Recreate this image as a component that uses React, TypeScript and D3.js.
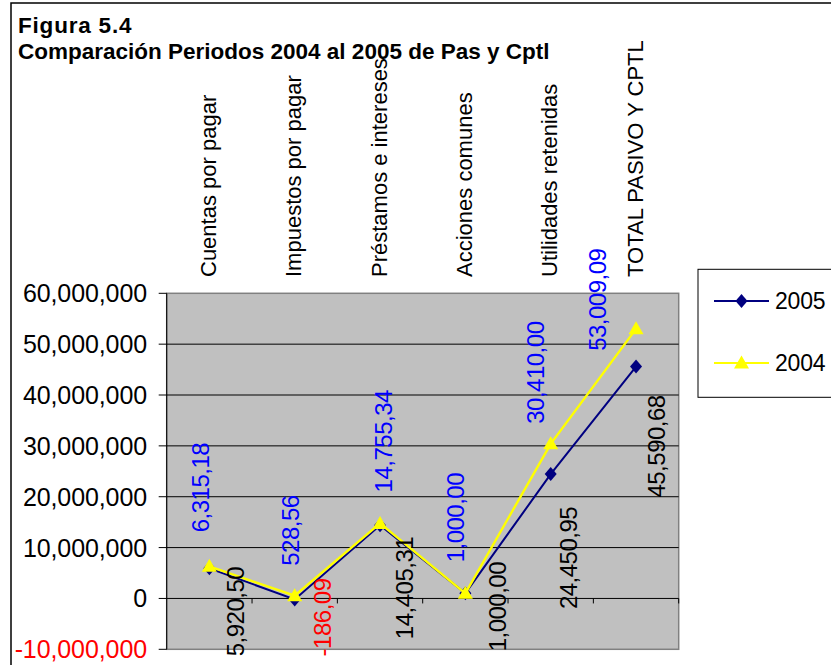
import React from "react";
import * as d3 from "d3";

const categories = [
  "Cuentas por pagar",
  "Impuestos por pagar",
  "Préstamos e intereses",
  "Acciones comunes",
  "Utilidades retenidas",
  "TOTAL PASIVO Y CPTL",
];
const values2005 = [5920500, -186090, 14405310, 1000000, 24450950, 45590680];
const values2004 = [6315180, 528569, 14755340, 1000000, 30410000, 53009090];
const labels2005 = ["5,920,50", "-186,09", "14,405,31", "1,000,00", "24,450,95", "45,590,68"];
const labels2004 = ["6,315,18", "528,56", "14,755,34", "1,000,00", "30,410,00", "53,009,09"];
const yTicks = [-10000000, 0, 10000000, 20000000, 30000000, 40000000, 50000000, 60000000];
const seriesNames = ["2005", "2004"];

// label placement offsets (relative to their point): dx to label centre, dy to text start
const lab2004dx = [-9, -4, 3, -10, -15, -39];
const lab2004dy = [-34, -30, -31, -31, -20, 22];
const lab2005dx = [26, 28, 24, 32, 18, 20];
const lab2005dy = [88, 57, 114, 58, 135, 131];

const FONT = "'Liberation Sans', Arial, Helvetica, sans-serif";
const NAVY = "#000080";
const YELLOW = "#FFFF00";

const W = 831;
const H = 665;
const plot = { left: 166.7, right: 678.7, top: 293.3, bottom: 649.3 };

const diamond = (cx: number, cy: number) =>
  `M${cx},${cy - 7}L${cx + 6},${cy}L${cx},${cy + 7}L${cx - 6},${cy}Z`;
const triangle = (cx: number, cy: number) =>
  `M${cx},${cy - 7.5}L${cx + 7.5},${cy + 5.5}L${cx - 7.5},${cy + 5.5}Z`;

export default function App() {
  const x = d3.scaleBand<string>().domain(categories).range([plot.left, plot.right]);
  const cx = (c: string) => (x(c) as number) + x.bandwidth() / 2;
  const y = d3.scaleLinear().domain([-10000000, 60000000]).range([plot.bottom, plot.top]);
  const fmt = d3.format(",");

  const line = d3
    .line<number>()
    .x((_, i) => cx(categories[i]))
    .y((v) => y(v));

  const catTickXs = categories.map((c) => x(c) as number).slice(1).concat([plot.right]);

  return (
    <svg
      width={W}
      height={H}
      style={{ position: "absolute", left: 0, top: 0, background: "#fff" }}
      fontFamily={FONT}
    >
      {/* outer chart border */}
      <rect x={11} y={3} width={W} height={H + 10} fill="#fff" stroke="#000" strokeWidth={1.5} />

      {/* title */}
      <text x={18} y={33} fontSize={22.5} fontWeight="bold" fill="#000" letterSpacing={0.8}>
        Figura 5.4
      </text>
      <text x={18} y={59} fontSize={22.5} fontWeight="bold" fill="#000">
        Comparación Periodos 2004 al 2005 de Pas y Cptl
      </text>

      {/* plot area */}
      <rect
        x={plot.left}
        y={plot.top}
        width={plot.right - plot.left}
        height={plot.bottom - plot.top}
        fill="#C0C0C0"
        stroke="#808080"
        strokeWidth={1.5}
      />
      {yTicks
        .filter((t) => t > -10000000 && t < 60000000)
        .map((t) => (
          <line key={t} x1={plot.left} x2={plot.right} y1={y(t)} y2={y(t)} stroke="#000" strokeWidth={1} />
        ))}
      {/* category axis ticks on zero line */}
      {catTickXs.map((tx, i) => (
        <line key={i} x1={tx} x2={tx} y1={y(0)} y2={y(0) + 5} stroke="#000" strokeWidth={1} />
      ))}
      {/* value axis */}
      <line x1={plot.left} x2={plot.left} y1={plot.top} y2={plot.bottom} stroke="#000" strokeWidth={1} />
      {yTicks.map((t) => (
        <g key={t}>
          <line x1={plot.left - 8} x2={plot.left} y1={y(t)} y2={y(t)} stroke="#000" strokeWidth={1} />
          <text
            x={147}
            y={y(t)}
            dy="0.36em"
            textAnchor="end"
            fontSize={25}
            fill={t < 0 ? "#FF0000" : "#000"}
            letterSpacing={-0.1}
          >
            {t < 0 ? "-" + fmt(-t) : fmt(t)}
          </text>
        </g>
      ))}

      {/* category labels */}
      {categories.map((c) => (
        <text
          key={c}
          transform={`translate(${cx(c)},277) rotate(-90)`}
          dy="0.3em"
          fontSize={22}
          fill="#000"
        >
          {c}
        </text>
      ))}

      {/* series lines */}
      <path d={line(values2005) as string} fill="none" stroke={NAVY} strokeWidth={2} />
      {values2005.map((v, i) => (
        <path key={i} d={diamond(cx(categories[i]), y(v))} fill={NAVY} />
      ))}
      <path d={line(values2004) as string} fill="none" stroke={YELLOW} strokeWidth={2.4} />
      {values2004.map((v, i) => (
        <path key={i} d={triangle(cx(categories[i]), y(v))} fill={YELLOW} />
      ))}

      {/* data labels 2004 (blue, above) */}
      {values2004.map((v, i) => (
        <text
          key={i}
          transform={`translate(${cx(categories[i]) + lab2004dx[i]},${y(v) + lab2004dy[i]}) rotate(-90)`}
          dy="0.36em"
          fontSize={24}
          fill="#0000FF"
          letterSpacing={-0.5}
        >
          {labels2004[i]}
        </text>
      ))}
      {/* data labels 2005 (black / red, below) */}
      {values2005.map((v, i) => (
        <text
          key={i}
          transform={`translate(${cx(categories[i]) + lab2005dx[i]},${y(v) + lab2005dy[i]}) rotate(-90)`}
          dy="0.36em"
          fontSize={24}
          fill={v < 0 ? "#FF0000" : "#000"}
          letterSpacing={-0.5}
        >
          {labels2005[i]}
        </text>
      ))}

      {/* legend */}
      <rect x={698} y={269.3} width={W} height={128} fill="#fff" stroke="#000" strokeWidth={1} />
      {seriesNames.map((s, i) => {
        const ly = 301 + i * 62;
        return (
          <g key={s}>
            <line x1={714} x2={769} y1={ly} y2={ly} stroke={i === 0 ? NAVY : YELLOW} strokeWidth={2} />
            <path d={i === 0 ? diamond(741.5, ly) : triangle(741.5, ly)} fill={i === 0 ? NAVY : YELLOW} />
            <text x={775} y={ly} dy="0.36em" fontSize={23} fill="#000" letterSpacing={-0.2}>
              {s}
            </text>
          </g>
        );
      })}
    </svg>
  );
}
